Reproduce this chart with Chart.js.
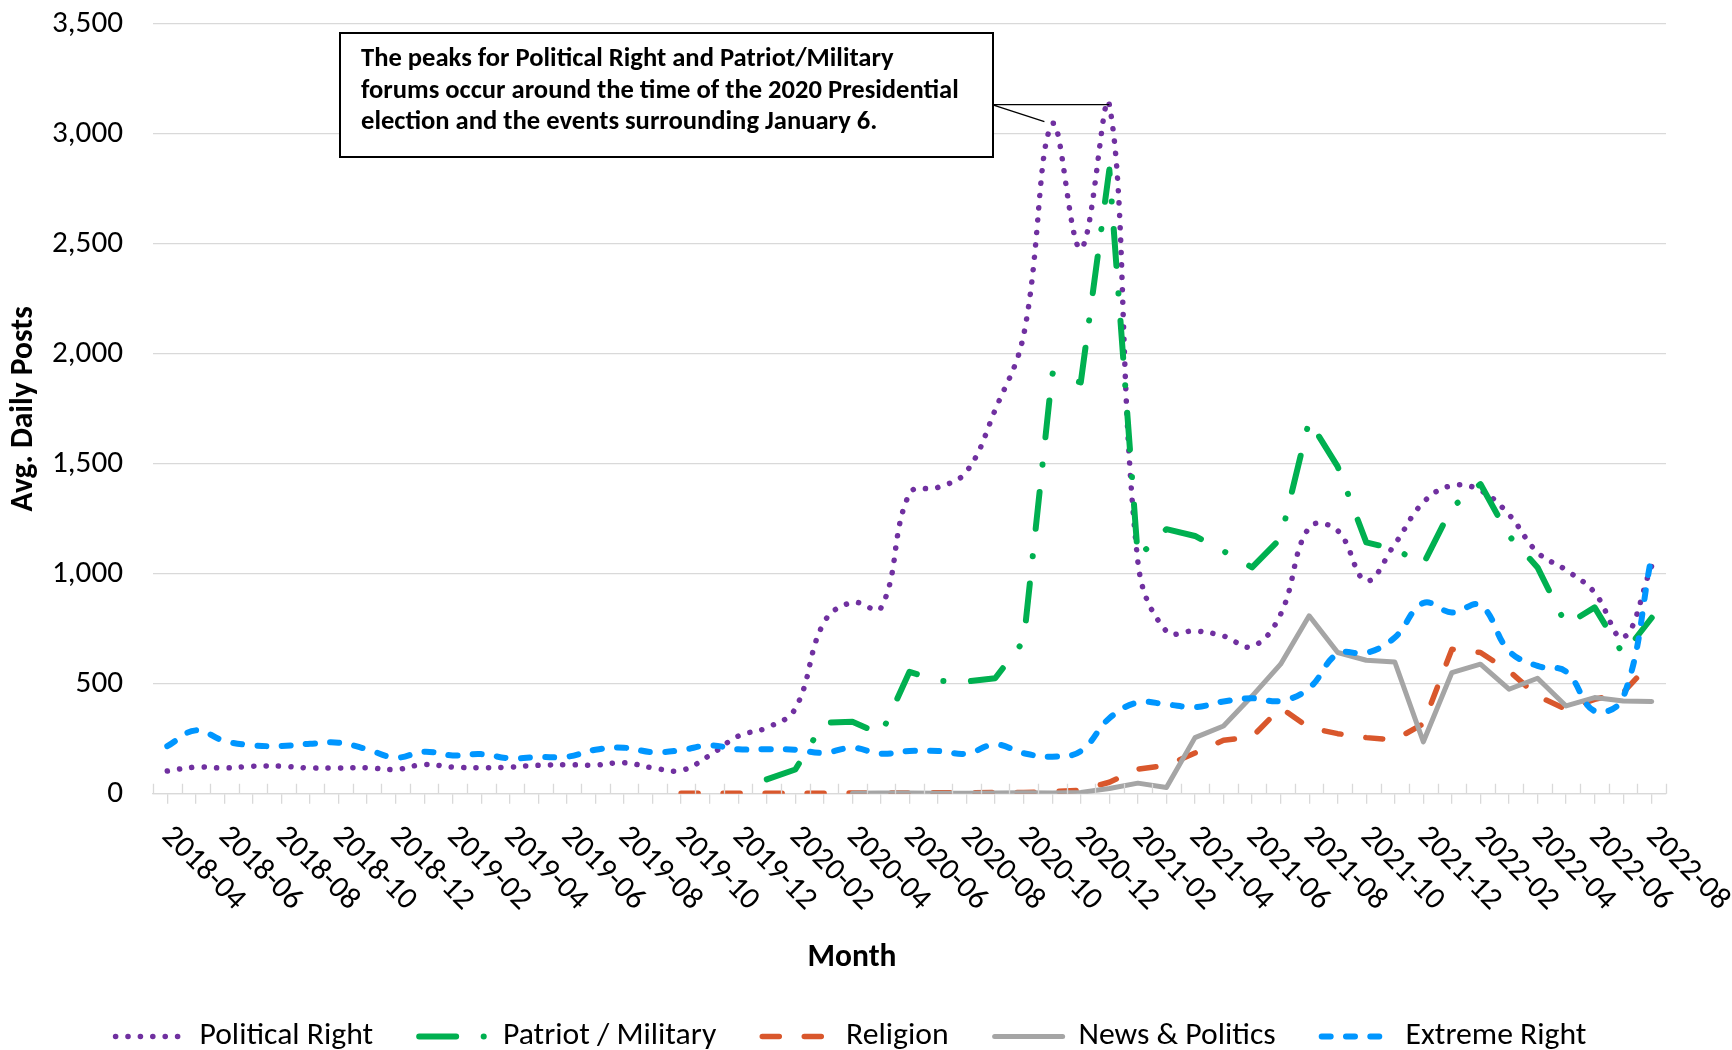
<!DOCTYPE html>
<html>
<head>
<meta charset="utf-8">
<script src="https://cdn.jsdelivr.net/npm/chart.js@4.4.1/dist/chart.umd.min.js"></script>
<style>
  html, body { margin: 0; padding: 0; background: #fff; }
  #wrap { width: 1732px; height: 1050px; position: relative; }
</style>
</head>
<body>
<div id="wrap"><canvas id="my-graph"></canvas></div>
<script>
const months = [
  "2018-04", "2018-05", "2018-06", "2018-07", "2018-08", "2018-09", "2018-10", "2018-11", "2018-12",
  "2019-01", "2019-02", "2019-03", "2019-04", "2019-05", "2019-06", "2019-07", "2019-08", "2019-09",
  "2019-10", "2019-11", "2019-12", "2020-01", "2020-02", "2020-03", "2020-04", "2020-05", "2020-06",
  "2020-07", "2020-08", "2020-09", "2020-10", "2020-11", "2020-12", "2021-01", "2021-02", "2021-03",
  "2021-04", "2021-05", "2021-06", "2021-07", "2021-08", "2021-09", "2021-10", "2021-11", "2021-12",
  "2022-01", "2022-02", "2022-03", "2022-04", "2022-05", "2022-06", "2022-07", "2022-08"
];

const politicalRight = [
  103, 121, 117, 125, 125, 117, 117, 118, 110, 133,
  121, 118, 121, 129, 132, 130, 141, 118, 106, 174,
  262, 300, 387, 778, 870, 845, 1365, 1393, 1465, 1745,
  2086, 3045, 2478, 3133, 1055, 738, 740, 717, 669, 816,
  1211, 1196, 968, 1135, 1325, 1401, 1379, 1269, 1097, 1017,
  915, 710, 1036
];

const patriotMilitary = [
  null, null, null, null, null, null, null, null, null, null,
  null, null, null, null, null, null, null, null, null, null,
  null, 65, 110, 323, 327, 270, 554, 513, 510, 525,
  694, 1911, 1870, 2838, 1075, 1203, 1172, 1103, 1029, 1161,
  1697, 1487, 1143, 1112, 1044, 1302, 1408, 1173, 1029, 768,
  847, 634, 800
];

const religion = [
  null, null, null, null, null, null, null, null, null, null,
  null, null, null, null, null, null, null, null, 2, 3,
  2, 2, 3, 2, 3, 4, 3, 4, 4, 5,
  6, 9, 16, 52, 112, 128, 185, 243, 258, 391,
  300, 273, 255, 245, 318, 657, 642, 558, 444, 384,
  429, 460, 600
];

const newsPolitics = [
  null, null, null, null, null, null, null, null, null, null,
  null, null, null, null, null, null, null, null, null, null,
  null, null, null, null, 2, 3, 3, 2, 2, 3,
  4, 3, 6, 24, 48, 28, 255, 308, 444, 589,
  809, 642, 607, 599, 236, 551, 589, 475, 525, 399,
  437, 422, 419
];

const extremeRight = [
  216, 288, 240, 220, 217, 227, 232, 202, 164, 191,
  174, 180, 161, 167, 168, 200, 209, 189, 198, 220,
  202, 202, 200, 186, 209, 182, 194, 194, 182, 224,
  184, 168, 194, 343, 415, 406, 394, 419, 434, 422,
  480, 637, 640, 710, 867, 824, 857, 649, 581, 555,
  376, 437, 1082
];

const calloutLines = [
  "The peaks for Political Right and Patriot/Military",
  "forums occur around the time of the 2020 Presidential",
  "election and the events surrounding January 6."
];

const family = "Carlito, Lato, sans-serif";
const gridColor = "#d9d9d9";

// pick font sizes so text widths match the original Calibri text
function fitSize(text, width, weight) {
  const m = document.createElement("canvas").getContext("2d");
  m.font = weight + " 100px " + family;
  return Math.round(100 * width / m.measureText(text).width * 10) / 10;
}
const tickSize = fitSize("3,500", 71, "normal");
const xLabelSize = fitSize("2018-04", 104, "normal");
const legendSize = fitSize("Political Right", 174, "normal");
const titleSize = fitSize("Month", 89, "bold");
const noteSize = fitSize(calloutLines[1], 597, "bold");

Chart.defaults.font.family = family;
Chart.defaults.color = "#000";

const decorations = {
  id: "decorations",
  afterDraw(chart) {
    const c = chart.ctx;
    const x = chart.scales.x;
    const y = chart.scales.y;
    const base = y.getPixelForValue(0);
    c.save();

    // upper half of the cross tick marks on the category axis
    c.strokeStyle = gridColor;
    c.lineWidth = 1.3;
    c.beginPath();
    for (let k = 0; k <= months.length; k++) {
      const px = Math.round(x.getPixelForValue(k - 0.5)) + 0.5;
      c.moveTo(px, base - 10);
      c.lineTo(px, base);
    }
    c.stroke();

    // month labels, every second month, slanted down to the right
    c.fillStyle = "#000";
    c.font = xLabelSize + "px " + family;
    c.textAlign = "left";
    c.textBaseline = "middle";
    months.forEach((m, i) => {
      if (i % 2) return;
      c.save();
      c.translate(x.getPixelForValue(i) - 1, base + 38);
      c.rotate(Math.PI / 4);
      c.fillText(m, 0, 0);
      c.restore();
    });

    // axis titles
    c.font = "bold " + titleSize + "px " + family;
    c.textAlign = "center";
    c.fillText("Month", 852, 958);
    c.save();
    c.translate(24, (y.top + y.bottom) / 2);
    c.rotate(-Math.PI / 2);
    c.fillText("Avg. Daily Posts", 0, 0);
    c.restore();

    // callout box with leader lines to the two peaks
    const peak1 = { x: x.getPixelForValue(31), y: y.getPixelForValue(politicalRight[31]) };
    const peak2 = { x: x.getPixelForValue(33), y: y.getPixelForValue(politicalRight[33]) };
    const sx = 992;
    const sy = peak2.y;
    c.strokeStyle = "#000";
    c.lineWidth = 1.3;
    c.beginPath();
    c.moveTo(sx, sy);
    c.lineTo(sx + (peak1.x - sx) * 0.87, sy + (peak1.y - sy) * 0.87);
    c.moveTo(sx, sy);
    c.lineTo(peak2.x, peak2.y);
    c.stroke();

    c.fillStyle = "#fff";
    c.fillRect(340, 33, 653, 124);
    c.lineWidth = 2;
    c.strokeRect(340, 33, 653, 124);
    c.fillStyle = "#000";
    c.font = "bold " + noteSize + "px " + family;
    c.textAlign = "left";
    calloutLines.forEach((t, i) => c.fillText(t, 361, 59.5 + i * 31.5));

    c.restore();
  }
};

const ctx = document.getElementById("my-graph");

const data = {
  labels: months,
  datasets: [
    {
      label: "Political Right",
      data: politicalRight,
      borderColor: "#7030a0",
      backgroundColor: "#7030a0",
      borderWidth: 5.5,
      borderDash: [0.1, 12.3],
      borderCapStyle: "round",
      tension: 0.4,
      order: 5,
    },
    {
      label: "Patriot / Military",
      data: patriotMilitary,
      borderColor: "#00b050",
      backgroundColor: "#00b050",
      borderWidth: 6,
      borderDash: [37, 27.5, 0.1, 27.5],
      borderCapStyle: "round",
      tension: 0,
      order: 4,
    },
    {
      label: "Religion",
      data: religion,
      borderColor: "#d9572c",
      backgroundColor: "#d9572c",
      borderWidth: 5.5,
      borderDash: [17, 25],
      borderCapStyle: "round",
      tension: 0,
      order: 3,
    },
    {
      label: "News & Politics",
      data: newsPolitics,
      borderColor: "#a5a5a5",
      backgroundColor: "#a5a5a5",
      borderWidth: 5,
      borderCapStyle: "round",
      tension: 0,
      order: 2,
    },
    {
      label: "Extreme Right",
      data: extremeRight,
      borderColor: "#0096ff",
      backgroundColor: "#0096ff",
      borderWidth: 6,
      borderDash: [9, 15.3],
      borderCapStyle: "round",
      tension: 0.4,
      order: 1,
    },
  ],
};

const chart = new Chart(ctx, {
  type: "line",
  data: data,
  options: {
    responsive: true,
    maintainAspectRatio: false,
    animation: false,
    devicePixelRatio: 1,
    elements: {
      point: { radius: 0, hoverRadius: 0 },
      line: { borderJoinStyle: "round", fill: false },
    },
    layout: {
      padding: { top: 24, left: 36, right: 66, bottom: -12.4 },
    },
    scales: {
      x: {
        type: "category",
        offset: true,
        afterFit: (scale) => { scale.height = 181; },
        grid: {
          display: true,
          drawOnChartArea: false,
          drawTicks: true,
          tickLength: 10,
          color: gridColor,
          lineWidth: 1.3,
        },
        border: { display: true, color: gridColor, width: 1.3 },
        ticks: { display: false, autoSkip: false },
      },
      y: {
        min: 0,
        max: 3500,
        afterFit: (scale) => { scale.width = 117; },
        grid: {
          color: gridColor,
          lineWidth: 1.3,
          drawTicks: true,
          tickLength: 30,
          tickColor: "rgba(0,0,0,0)",
        },
        border: { display: false },
        ticks: {
          stepSize: 500,
          padding: 0,
          color: "#000",
          font: { size: tickSize },
          callback: (v) => v.toLocaleString("en-US"),
        },
      },
    },
    plugins: {
      tooltip: { enabled: false },
      legend: {
        position: "bottom",
        labels: {
          usePointStyle: true,
          pointStyle: "line",
          pointStyleWidth: 68,
          padding: 46,
          color: "#000",
          font: { size: legendSize },
          generateLabels: (chart) => chart.data.datasets.map((ds, i) => ({
            text: ds.label,
            fillStyle: ds.borderColor,
            strokeStyle: ds.borderColor,
            fontColor: "#000",
            lineWidth: ds.borderWidth,
            lineDash: ds.borderDash || [],
            lineCap: ds.borderCapStyle,
            pointStyle: "line",
            hidden: false,
            datasetIndex: i,
          })),
        },
      },
    },
  },
  plugins: [decorations],
});
</script>
</body>
</html>
